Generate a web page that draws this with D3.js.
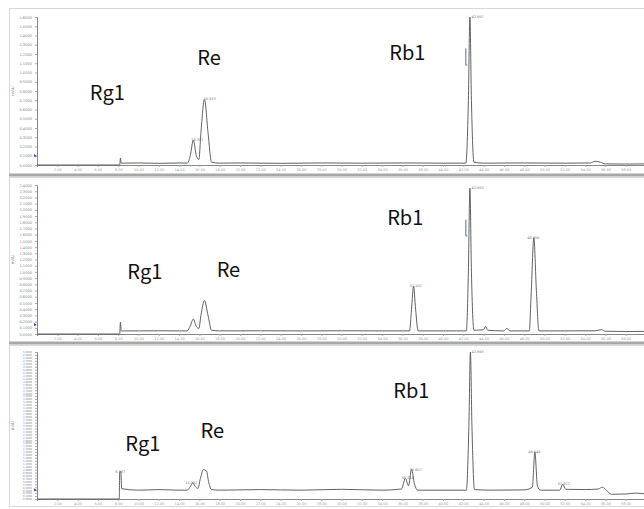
<!DOCTYPE html>
<html><head><meta charset="utf-8">
<script src="https://cdn.jsdelivr.net/npm/d3@7"></script>
<style>body{margin:0;background:#fff}svg{display:block}</style>
</head><body>
<script>
// ---------- data (retention time in min, intensity) ----------
const trace1 = [[0,0],[8.15,0],[8.22,0.075],[8.3,0.02],[10,0.022],[12,0.018],[14,0.022],[14.8,0.02],[15.1,0.1],[15.4,0.27],[15.7,0.1],[15.95,0.06],[16.15,0.35],[16.5,0.71],[16.85,0.35],[17.2,0.03],[18,0.02],[20,0.022],[24,0.018],[28,0.022],[32,0.02],[36,0.022],[40,0.02],[42.25,0.02],[42.5,0.7],[42.65,1.6],[42.8,0.7],[43.05,0.03],[44,0.02],[48,0.022],[52,0.02],[54.5,0.022],[55,0.04],[55.5,0.03],[56,0.012],[58,0.01],[60,0.012]];
const trace2 = [[0,0],[8.15,0],[8.22,0.19],[8.3,0.05],[10,0.05],[12,0.052],[14,0.05],[14.8,0.05],[15.1,0.13],[15.4,0.24],[15.7,0.12],[15.95,0.09],[16.15,0.3],[16.5,0.54],[16.85,0.3],[17.2,0.06],[18,0.05],[22,0.052],[26,0.05],[30,0.052],[34,0.05],[36.7,0.05],[36.9,0.4],[37.1,0.77],[37.3,0.4],[37.55,0.05],[40,0.05],[42.3,0.05],[42.5,1.0],[42.65,2.35],[42.8,1.0],[43.05,0.06],[44,0.07],[44.2,0.12],[44.4,0.06],[46,0.05],[46.3,0.09],[46.6,0.05],[48.5,0.05],[48.7,0.7],[48.95,1.55],[49.2,0.7],[49.45,0.05],[52,0.05],[55,0.052],[55.6,0.07],[56,0.045],[58,0.04],[60,0.042]];
const trace3 = [[0,0],[8.1,0],[8.15,0.93],[8.25,0.93],[8.35,0.35],[10,0.3],[12,0.32],[14,0.3],[14.8,0.3],[15.1,0.42],[15.35,0.55],[15.6,0.42],[15.85,0.36],[16.1,0.7],[16.4,1.0],[16.7,0.95],[16.9,0.6],[17.2,0.32],[18,0.3],[22,0.32],[26,0.3],[30,0.33],[34,0.3],[35.9,0.34],[36.3,0.7],[36.6,0.45],[36.9,1.0],[37.2,0.5],[37.5,0.3],[40,0.3],[42.3,0.3],[42.55,2.5],[42.7,5.0],[42.85,2.5],[43.1,0.32],[45,0.3],[48,0.31],[48.8,0.4],[49.05,1.6],[49.3,0.45],[49.6,0.3],[51.5,0.3],[51.8,0.5],[52.1,0.33],[54,0.32],[55.3,0.34],[55.7,0.4],[56.1,0.3],[56.6,0.16],[58,0.17],[59,0.2],[60,0.17]];
const traces = [trace1, trace2, trace3];
const yMax = [1.6, 2.4, 5.0];
const compounds = ["Rg1", "Re", "Rb1"];
const labelPos = [ // label anchor in data units [time, intensity] per panel
  [[5.2, 0.70], [15.8, 1.08], [34.7, 1.13]],
  [[8.9, 0.88], [17.7, 0.92], [34.5, 1.75]],
  [[8.7, 1.62], [16.1, 2.06], [35.1, 3.45]]
];
const peakTags = [
  [[15.2,0.27,"15.387"],[16.4,0.71,"16.553"],[42.8,1.6,"42.667"]],
  [[36.7,0.77,"37.102"],[42.8,2.35,"42.663"],[48.3,1.55,"48.956"]],
  [[7.7,0.93,"8.187"],[14.6,0.55,"15.352"],[35.9,0.7,"36.314"],[36.7,1.0,"36.907"],[42.8,5.0,"42.693"],[48.4,1.6,"49.046"],[51.3,0.5,"51.812"]]
];
const xTicks = d3.range(2, 59, 2);
const integMarks = [[0, 1.26, 1.08], [1, 1.84, 1.58]]; // panel, from, to (intensity)

// ---------- layout ----------
const W = 644, H = 509;
const panels = [
  {top: 17, bottom: 165, frameTop: 8, frameBottom: 174},
  {top: 185, bottom: 334, frameTop: 177, frameBottom: 342},
  {top: 352, bottom: 499, frameTop: 345, frameBottom: 506}
];
const svg = d3.select("body").append("svg").attr("width", W).attr("height", H);
const x = d3.scaleLinear().domain([0, 60]).range([37, 646]);
const ys = [];

panels.forEach((p, i) => {
  const g = svg.append("g");
  g.append("rect").attr("x", 9.5).attr("y", p.frameTop + 0.5)
    .attr("width", W).attr("height", p.frameBottom - p.frameTop)
    .attr("fill", "none").attr("stroke", "#d8d8d8");
  const y = d3.scaleLinear().domain([0, yMax[i]]).range([p.bottom, p.top]);
  ys.push(y);
  const ya = g.append("g").attr("transform", `translate(${x(0)},0)`)
    .call(d3.axisLeft(y).tickValues(d3.range(0, yMax[i] + 1e-6, 0.1)).tickSize(2).tickFormat(d3.format(".4f")));
  ya.select(".domain").attr("stroke", "#888");
  ya.selectAll(".tick line").attr("stroke", "#aaa");
  ya.selectAll("text").attr("font-size", i === 2 ? 2.6 : 3.6).attr("fill", "#888").attr("font-family", "DejaVu Sans");
  const xa = g.append("g").attr("transform", `translate(0,${p.bottom})`)
    .call(d3.axisBottom(x).tickValues(xTicks).tickSize(2).tickFormat(d3.format(".2f")));
  xa.select(".domain").attr("stroke", "#888");
  xa.selectAll(".tick line").attr("stroke", "#aaa");
  xa.selectAll("text").attr("font-size", 3.5).attr("fill", "#999").attr("font-family", "DejaVu Sans").attr("dy", "0.2em");
  g.append("text").attr("transform", `translate(14,${(p.top + p.bottom) / 2}) rotate(-90)`)
    .attr("text-anchor", "middle").attr("font-size", 4).attr("fill", "#888")
    .attr("font-family", "DejaVu Sans").text("mAU");
  const line = d3.line().x(d => x(d[0])).y(d => y(d[1])).curve(d3.curveMonotoneX);
  g.append("path").datum(traces[i]).attr("d", line)
    .attr("fill", "none").attr("stroke", "#5a5a5a").attr("stroke-width", 0.95);
  g.selectAll(".tag").data(peakTags[i]).join("text")
    .attr("x", d => x(d[0])).attr("y", d => y(d[1]) + 1)
    .attr("font-size", 3.5).attr("fill", "#777").attr("font-family", "DejaVu Sans")
    .text(d => d[2]);
  g.append("path").attr("d", `M${x(0) - 3},${y(yMax[i] * 0.06) - 2}l3,2l-3,1z`).attr("fill", "#3a55b5");
  g.selectAll(".lab").data(labelPos[i]).join("text")
    .attr("x", d => x(d[0])).attr("y", d => y(d[1]))
    .attr("font-size", 20).attr("fill", "#111")
    .attr("font-family", "'Noto Sans CJK KR','Noto Sans',sans-serif")
    .text((d, j) => compounds[j]);
});
integMarks.forEach(([i, a, b]) => {
  svg.append("path").attr("d", `M${x(42.25)},${ys[i](a)}V${ys[i](b)}h1.5`)
    .attr("fill", "none").attr("stroke", "#4a70c0").attr("stroke-width", 1);
});
[175, 343].forEach(v => svg.append("rect").attr("x", 9).attr("y", v - 1.5).attr("width", W).attr("height", 3).attr("fill", "#a8a8a8"));
</script>
</body></html>
